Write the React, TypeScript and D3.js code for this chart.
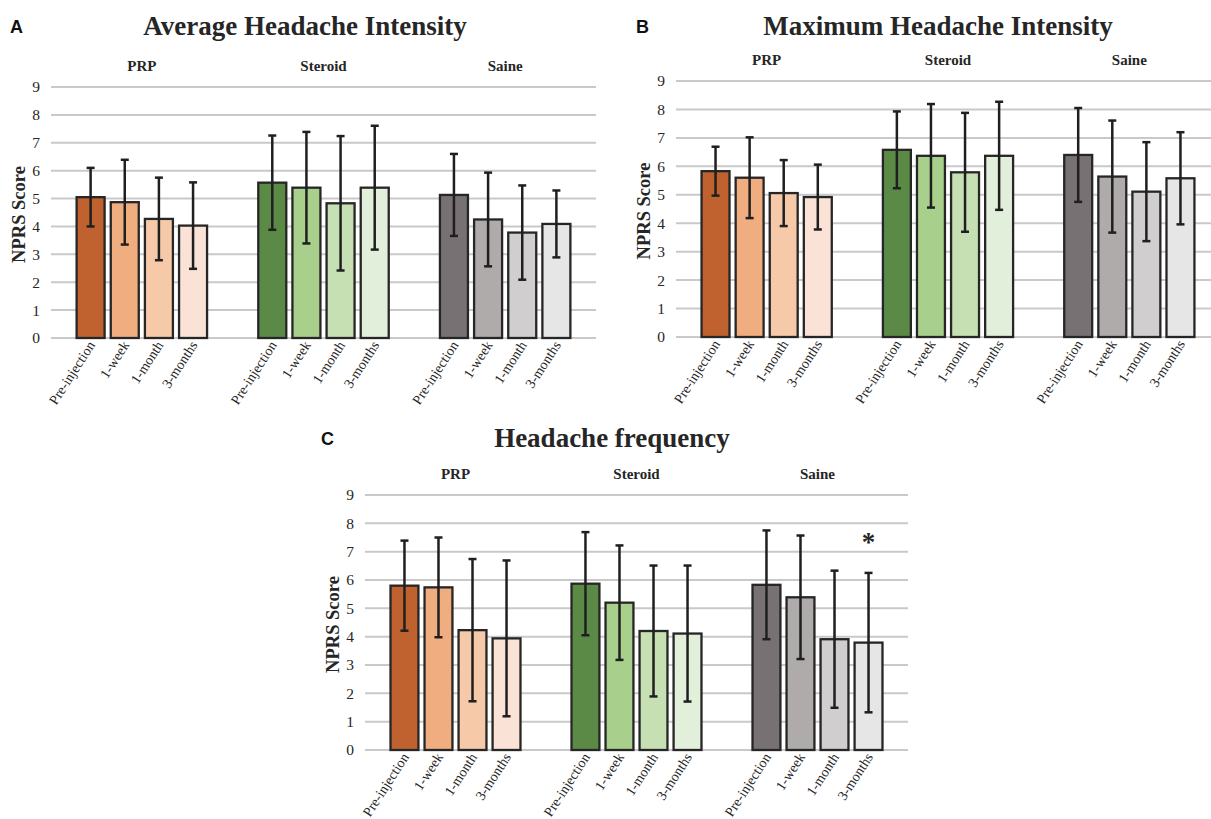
import * as d3 from 'd3';

const groups = ['PRP', 'Steroid', 'Saine'];
const timepoints = ['Pre-injection', '1-week', '1-month', '3-months'];
const yTicks = [0, 1, 2, 3, 4, 5, 6, 7, 8, 9];

// colours per group, darkest = pre-injection
const groupColors = [
  ['#c0622f', '#f0ae80', '#f6c9a9', '#fae3d6'],
  ['#5b8a47', '#a8d08c', '#c6e0b4', '#e2efda'],
  ['#787173', '#afabab', '#d0cece', '#e7e6e6'],
];

// A - average intensity (mean, sd)
const avgMeans = [
  [5.05, 4.87, 4.27, 4.03],
  [5.57, 5.39, 4.83, 5.39],
  [5.13, 4.25, 3.78, 4.09],
];
const avgErr = [
  [1.05, 1.52, 1.48, 1.55],
  [1.69, 2.0, 2.41, 2.22],
  [1.47, 1.68, 1.69, 1.2],
];

// B - maximum intensity
const maxMeans = [
  [5.83, 5.6, 5.06, 4.92],
  [6.58, 6.37, 5.79, 6.37],
  [6.4, 5.64, 5.11, 5.58],
];
const maxErr = [
  [0.86, 1.42, 1.16, 1.14],
  [1.35, 1.82, 2.09, 1.9],
  [1.65, 1.97, 1.74, 1.62],
];

// C - frequency
const freqMeans = [
  [5.8, 5.74, 4.23, 3.94],
  [5.87, 5.2, 4.2, 4.11],
  [5.83, 5.39, 3.91, 3.79],
];
const freqErr = [
  [1.59, 1.76, 2.51, 2.75],
  [1.82, 2.02, 2.31, 2.4],
  [1.92, 2.18, 2.42, 2.46],
];

const serif = '"Liberation Serif", "Times New Roman", serif';
const sans = '"Liberation Sans", Arial, sans-serif';

interface PanelProps {
  letter: string;
  title: string;
  means: number[][];
  errs: number[][];
  x0: number;
  x1: number;
  yZero: number;
  yTop: number;
  titleX: number;
  titleY: number;
  letterX: number;
  star?: [number, number];
}

function Panel({ letter, title, means, errs, x0, x1, yZero, yTop, titleX, titleY, letterX, star }: PanelProps) {
  const y = d3.scaleLinear().domain([0, 9]).range([yZero, yTop]);
  const gx = d3.scaleBand().domain(groups).range([x0, x1]).padding(0);
  const bx = d3.scaleBand().domain(timepoints).range([0, gx.bandwidth()]).paddingInner(0.18).paddingOuter(0.75);
  const bw = bx.bandwidth();
  const cap = 4;

  return (
    <g>
      <text x={letterX} y={titleY - 2} fontFamily={sans} fontWeight="bold" fontSize={18} fill="#111">{letter}</text>
      <text x={titleX} y={titleY} textAnchor="middle" fontFamily={serif} fontWeight="bold" fontSize={27} fill="#262626">{title}</text>

      {groups.map(g => (
        <text key={g} x={gx(g)! + gx.bandwidth() / 2} y={yTop - 16} textAnchor="middle"
          fontFamily={serif} fontWeight="bold" fontSize={15} fill="#262626">{g}</text>
      ))}

      {yTicks.map(t => (
        <g key={t}>
          <line x1={x0} x2={x1} y1={y(t)} y2={y(t)} stroke="#c9c9c9" strokeWidth={2} />
          <text x={x0 - 11} y={y(t)} dy="0.35em" textAnchor="end" fontFamily={serif} fontSize={15.5} fill="#262626">{t}</text>
        </g>
      ))}

      <text transform={`translate(${x0 - 26},${(yZero + yTop) / 2 + 2}) rotate(-90)`} textAnchor="middle"
        fontFamily={serif} fontWeight="bold" fontSize={18.5} fill="#262626">NPRS Score</text>

      {groups.map((g, gi) => (
        <g key={g} transform={`translate(${gx(g)},0)`}>
          {timepoints.map((tp, ti) => {
            const m = means[gi][ti];
            const e = errs[gi][ti];
            const bxp = bx(tp)!;
            const cx = bxp + bw / 2;
            return (
              <g key={tp}>
                <rect x={bxp} y={y(m)} width={bw} height={yZero - y(m)}
                  fill={groupColors[gi][ti]} stroke="#262626" strokeWidth={2.3} />
                <line x1={cx} x2={cx} y1={y(m - e)} y2={y(m + e)} stroke="#1f1f1f" strokeWidth={2.5} />
                <line x1={cx - cap} x2={cx + cap} y1={y(m + e)} y2={y(m + e)} stroke="#1f1f1f" strokeWidth={2.5} />
                <line x1={cx - cap} x2={cx + cap} y1={y(m - e)} y2={y(m - e)} stroke="#1f1f1f" strokeWidth={2.5} />
                <text transform={`translate(${cx + 5},${yZero + 7}) rotate(-57)`} textAnchor="end"
                  fontFamily={serif} fontSize={14} fill="#262626">{tp}</text>
              </g>
            );
          })}
        </g>
      ))}

      {star && (
        <text x={gx(groups[star[0]])! + bx(timepoints[star[1]])! + bw / 2} y={y(7.5) + 13} textAnchor="middle"
          fontFamily={serif} fontWeight="bold" fontSize={27} fill="#262626">*</text>
      )}
    </g>
  );
}

export default function App() {
  return (
    <svg width={1211} height={819} style={{ position: 'absolute', left: 0, top: 0, background: '#fff' }}>
      <Panel letter="A" title="Average Headache Intensity" means={avgMeans} errs={avgErr}
        x0={51} x1={596} yZero={338} yTop={87} titleX={305} titleY={35} letterX={10} />
      <Panel letter="B" title="Maximum Headache Intensity" means={maxMeans} errs={maxErr}
        x0={676} x1={1220} yZero={337} yTop={81} titleX={938} titleY={35} letterX={636} />
      <Panel letter="C" title="Headache frequency" means={freqMeans} errs={freqErr}
        x0={365} x1={908} yZero={750} yTop={495} titleX={612} titleY={447} letterX={321} star={[2, 3]} />
    </svg>
  );
}
